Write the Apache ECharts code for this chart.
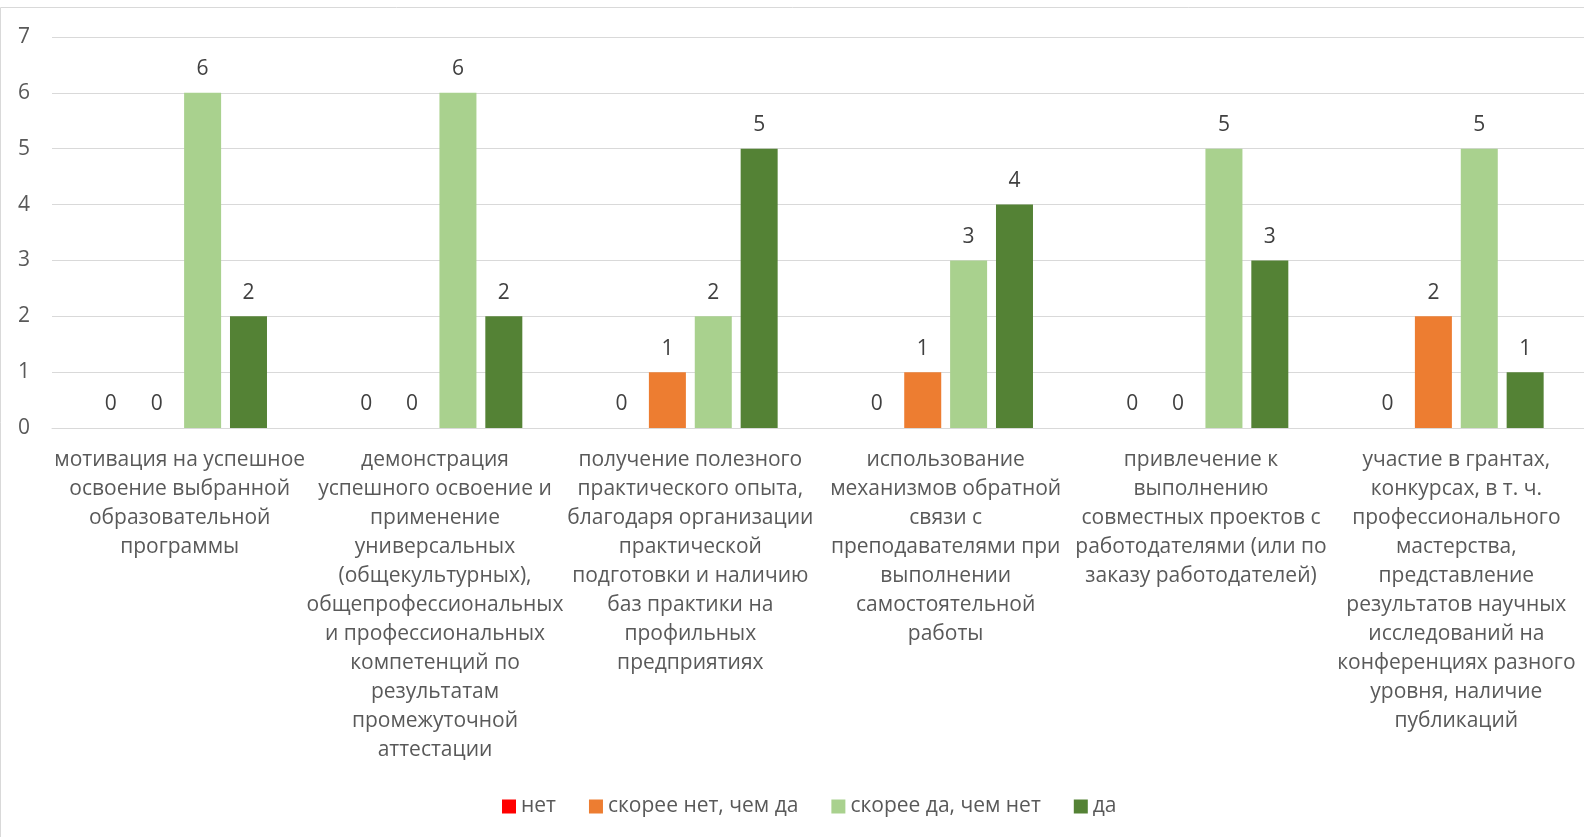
<!DOCTYPE html>
<html>
<head>
<meta charset="utf-8">
<script src="https://cdn.jsdelivr.net/npm/echarts@6/dist/echarts.min.js"></script>
<style>
  html, body { margin: 0; padding: 0; background: #fff; }
  #chart { width: 1584px; height: 837px; }
</style>
</head>
<body>
<div id="chart"></div>
<script>
// категории (подписи оси X с переносами как в оригинале)
const categories = [
  "мотивация на успешное\nосвоение выбранной\nобразовательной\nпрограммы",
  "демонстрация\nуспешного освоение и\nприменение\nуниверсальных\n(общекультурных),\nобщепрофессиональных\nи профессиональных\nкомпетенций по\nрезультатам\nпромежуточной\nаттестации",
  "получение полезного\nпрактического опыта,\nблагодаря организации\nпрактической\nподготовки и наличию\nбаз практики на\nпрофильных\nпредприятиях",
  "использование\nмеханизмов обратной\nсвязи с\nпреподавателями при\nвыполнении\nсамостоятельной\nработы",
  "привлечение к\nвыполнению\nсовместных проектов с\nработодателями (или по\nзаказу работодателей)",
  "участие в грантах,\nконкурсах, в т. ч.\nпрофессионального\nмастерства,\nпредставление\nрезультатов научных\nисследований на\nконференциях разного\nуровня, наличие\nпубликаций"
];

const seriesNames = ["нет", "скорее нет, чем да", "скорее да, чем нет", "да"];
const net = [0, 0, 0, 0, 0, 0];
const skoreeNet = [0, 0, 1, 1, 0, 2];
const skoreeDa = [6, 6, 2, 3, 5, 5];
const da = [2, 2, 5, 4, 3, 1];

const colors = ["#FF0000", "#ED7D31", "#A9D18E", "#548235"];
const font = "'Open Sans', 'Noto Sans', sans-serif";

const chart = echarts.init(document.getElementById("chart"));

function makeSeries(name, data) {
  return {
    name: name,
    type: "bar",
    data: data,
    barWidth: 37,
    barGap: "24%",
    label: {
      show: true,
      position: "top",
      distance: 13,
      color: "#404040",
      fontSize: 21,
      fontFamily: font
    }
  };
}

chart.setOption({
  animation: false,
  color: colors,
  textStyle: { fontFamily: font },
  graphic: [
    {
      type: "rect",
      shape: { x: 0.5, y: 7.5, width: 1700, height: 1000 },
      style: { fill: "none", stroke: "#d9d9d9", lineWidth: 1 },
      silent: true
    }
  ],
  grid: {
    left: 52,
    top: 37,
    width: 1533,
    height: 391
  },
  legend: {
    data: seriesNames,
    left: 497,
    top: 791,
    icon: "rect",
    itemWidth: 14,
    itemHeight: 14,
    itemGap: 33,
    textStyle: { color: "#595959", fontSize: 21, fontFamily: font }
  },
  xAxis: {
    type: "category",
    data: categories,
    axisTick: { show: false },
    axisLine: { lineStyle: { color: "#d9d9d9" } },
    axisLabel: {
      interval: 0,
      margin: 18,
      color: "#595959",
      fontSize: 21,
      lineHeight: 29,
      fontFamily: font
    }
  },
  yAxis: {
    type: "value",
    min: 0,
    max: 7,
    interval: 1,
    axisLine: { show: false },
    axisTick: { show: false },
    splitLine: { lineStyle: { color: "#d9d9d9" } },
    axisLabel: {
      color: "#595959",
      fontSize: 21,
      margin: 22,
      fontFamily: font
    }
  },
  series: [
    makeSeries(seriesNames[0], net),
    makeSeries(seriesNames[1], skoreeNet),
    makeSeries(seriesNames[2], skoreeDa),
    makeSeries(seriesNames[3], da)
  ]
});
</script>
</body>
</html>
